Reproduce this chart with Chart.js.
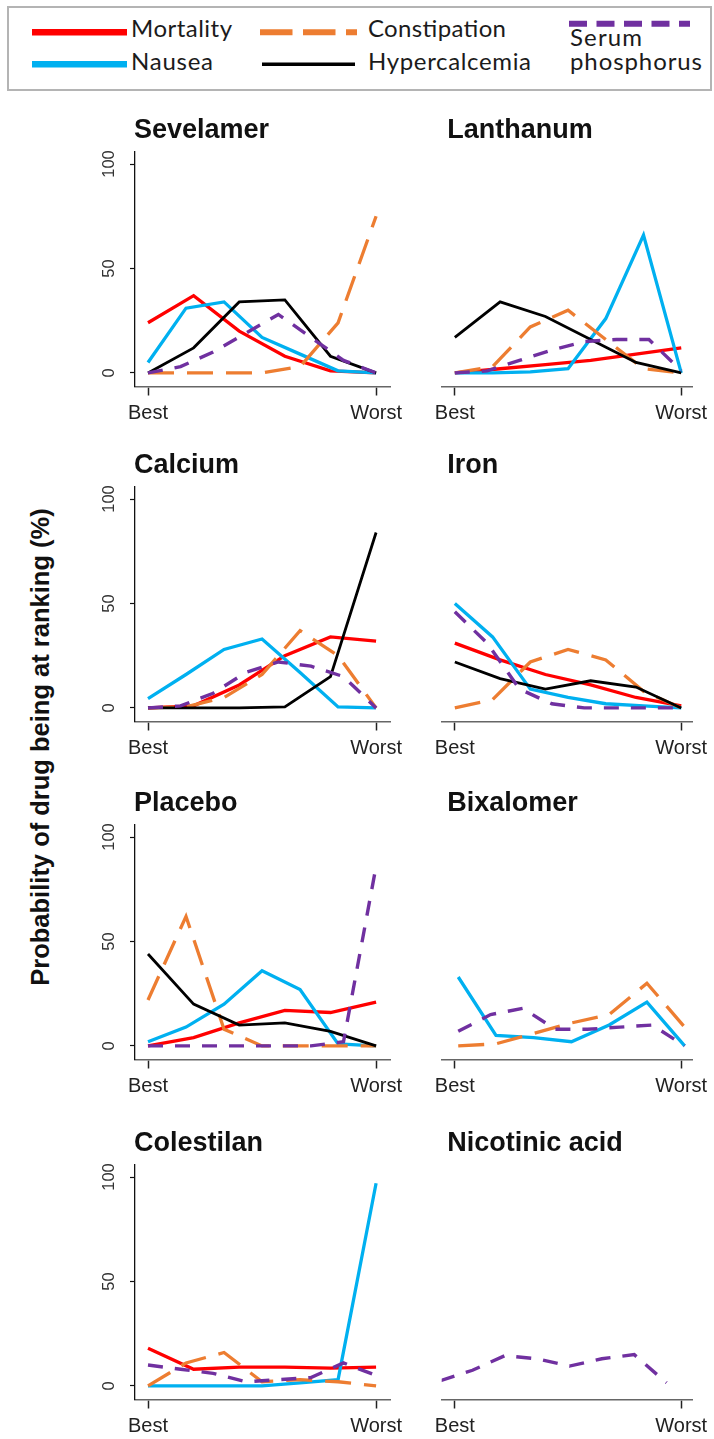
<!DOCTYPE html>
<html>
<head>
<meta charset="utf-8">
<script src="https://cdn.jsdelivr.net/npm/chart.js@4.4.1/dist/chart.umd.min.js"></script>
<style>
  html, body { margin: 0; padding: 0; background: #fff; overflow: hidden; }
  #page { position: relative; width: 714px; height: 1439px; }
  #page canvas { position: absolute; }
  #legend { position: absolute; left: 0; top: 0; }
  #legend text { font-family: Lato, "Open Sans", sans-serif; font-size: 24px; fill: #1b1b1b; }
  .ytitle {
    position: absolute; left: 41px; top: 747px;
    font: bold 25.5px "Liberation Sans", Arial, sans-serif; line-height: 1; color: #111;
    white-space: nowrap; transform: translate(-50%, -50%) rotate(-90deg);
  }
</style>
</head>
<body>
<div id="page">
  <svg id="legend" width="714" height="96">
    <rect x="8" y="7" width="703" height="83" fill="none" stroke="#b4b4b4" stroke-width="2"/>
    <line x1="32" y1="32.3" x2="127" y2="32.3" stroke="#ff0000" stroke-width="6.5"/>
    <text x="131" y="37.3" textLength="101">Mortality</text>
    <line x1="32" y1="64.3" x2="127" y2="64.3" stroke="#00b0f0" stroke-width="6.5"/>
    <text x="131" y="70" textLength="82">Nausea</text>
    <line x1="260" y1="32.3" x2="357" y2="32.3" stroke="#ed7d31" stroke-width="6" stroke-dasharray="32.5 10.5"/>
    <text x="368" y="37.3" textLength="138">Constipation</text>
    <line x1="262" y1="64.3" x2="355" y2="64.3" stroke="#000" stroke-width="3.5"/>
    <text x="368" y="70" textLength="163">Hypercalcemia</text>
    <line x1="569" y1="23.7" x2="690" y2="23.7" stroke="#7030a0" stroke-width="6" stroke-dasharray="18 9.5"/>
    <text x="570" y="46" textLength="72">Serum</text>
    <text x="570" y="70" textLength="132">phosphorus</text>
  </svg>
  <div class="ytitle">Probability of drug being at ranking (%)</div>
</div>
<script>
// Rank probabilities (%) from Best to Worst, one list per drug; null = not in that network.
const drugNames = ['Sevelamer', 'Lanthanum', 'Calcium', 'Iron', 'Placebo', 'Bixalomer', 'Colestilan', 'Nicotinic acid'];
const outcomeNames = ['Mortality', 'Nausea', 'Constipation', 'Hypercalcemia', 'Serum phosphorus'];

const mortality = [
  [24, 37, 20, 8, 1, 0],
  [0, 2, 4, 6, 9, 12],
  [0, 1, 11, 25, 34, 32],
  [31, 23, 16, 11, 5, 1],
  [0, 4, 11, 17, 16, 21],
  null,
  [18, 8, 9, 9, 8.5, 9],
  null
];
const nausea = [
  [5, 31, 34, 17, 9, 1, 0],
  [0, 0, 0.5, 2, 26, 66, 0],
  [4.5, 16, 28, 33, 17, 0.5, 0],
  [50, 34, 9, 5, 2, 1, 0],
  [2, 9, 20, 36, 27, 1, 0],
  [33, 5, 4, 2, 10, 21, 0],
  [0, 0, 0, 0, 1.5, 3, 97],
  null
];
const constipation = [
  [0, 0, 0, 0, 3, 24, 75],
  [0, 3, 22, 30, 16, 2, 0],
  [0, 0.5, 5, 16, 37, 25, 0],
  [0, 4, 22, 28, 23, 8, 0],
  [22, 62, 8, 0, 0, 0, 0],
  [0, 1, 6, 11, 15, 30, 9],
  [0, 11, 16, 2, 3, 2, 0],
  null
];
const hypercalcemia = [
  [0, 12, 34, 35, 8, 0],
  [17, 34, 27, 16, 5, 0],
  [0, 0, 0, 0.5, 15, 84],
  [22, 14, 9, 13, 10, 0],
  [44, 20, 10, 11, 7, 0],
  null,
  null,
  null
];
const serumPhosphorus = [
  [0, 3, 10, 19, 28, 17, 6, 0],
  [0, 1, 6, 11, 15, 16, 16, 1],
  [0, 1, 7, 17, 22, 20, 15, 0],
  [46, 31, 9, 2, 0, 0, 0, 0],
  [0, 0, 0, 0, 0, 0, 2, 86],
  [7, 15, 18, 8, 8, 9, 10, 0],
  [10, 8, 6, 2, 3, 4, 11, 5],
  [2.5, 7.5, 14.5, 13, 9.5, 13, 15, 1.5]
];

const rankLabels = ['Best', 'Worst'];
const yTicks = [0, 50, 100];

// series styling, same order as outcomeNames
const outcomeData = [mortality, nausea, constipation, hypercalcemia, serumPhosphorus];
const colors = ['#ff0000', '#00b0f0', '#ed7d31', '#000000', '#7030a0'];
const widths = [3.3, 3.3, 3.3, 2.8, 3.4];
const dashes = [[], [], [26, 13], [], [15, 12]];

// page layout
const rowZero = [373.3, 707.7, 1045.7, 1385.7];   // page y of the 0 % level per row
const lineShift = [0, 0, 0, 0, 0, -0.015, 0, 0.065];
const Y_MIN = -6.5, Y_MAX = 106;
const PAD_TOP = 38.5, X_AXIS_H = 36.5, CANVAS_H = 310, PLOT_H = 235;
const FONT = '"Liberation Sans", Arial, sans-serif';

const panelText = {
  id: 'panelText',
  afterDraw(chart, args, opts) {
    const { ctx, chartArea, scales } = chart;
    ctx.save();
    ctx.fillStyle = '#111';
    ctx.font = 'bold 27px ' + FONT;
    ctx.textAlign = 'left';
    ctx.textBaseline = 'middle';
    ctx.fillText(opts.title, chartArea.left + opts.titleDx, chartArea.top - 21);
    if (opts.yLabels) {
      ctx.font = '16.5px ' + FONT;
      ctx.fillStyle = '#333';
      ctx.textAlign = 'center';
      yTicks.forEach(v => {
        ctx.save();
        ctx.translate(chartArea.left - 26, scales.y.getPixelForValue(v));
        ctx.rotate(-Math.PI / 2);
        ctx.fillText(String(v), 0, 0);
        ctx.restore();
      });
    }
    ctx.restore();
  }
};

const page = document.getElementById('page');

drugNames.forEach((name, d) => {
  const row = Math.floor(d / 2), col = d % 2;
  const left = col === 0;
  const shift = lineShift[d];

  const canvas = document.createElement('canvas');
  canvas.width = left ? 340 : 299;
  canvas.height = CANVAS_H;
  canvas.style.left = (left ? 70 : 415) + 'px';
  canvas.style.top = (rowZero[row] - PAD_TOP - Y_MAX * PLOT_H / (Y_MAX - Y_MIN)) + 'px';
  page.appendChild(canvas);

  const datasets = [];
  outcomeData.forEach((series, k) => {
    const vals = series[d];
    if (!vals) return;
    datasets.push({
      label: outcomeNames[k],
      data: vals.map((v, i) => ({ x: i / (vals.length - 1), y: v })),
      borderColor: colors[k],
      borderWidth: widths[k],
      borderDash: dashes[k],
      borderCapStyle: 'butt',
      pointRadius: 0,
      tension: 0,
      order: outcomeNames.length - k
    });
  });

  const xMin = (left ? -0.057 : -0.058) + shift;
  const xMax = (left ? 1.061 : 1.048) + shift;

  new Chart(canvas, {
    type: 'line',
    data: { datasets },
    plugins: [panelText],
    options: {
      responsive: false,
      animation: false,
      devicePixelRatio: 1,
      layout: {
        padding: left ? { left: 0, right: 20, top: PAD_TOP, bottom: 0 }
                      : { left: 26.7, right: 19, top: PAD_TOP, bottom: 0 }
      },
      plugins: {
        legend: { display: false },
        tooltip: { enabled: false },
        panelText: { title: name, titleDx: left ? -1 : 5.5, yLabels: left }
      },
      scales: {
        x: {
          type: 'linear',
          min: xMin,
          max: xMax,
          afterBuildTicks: s => { s.ticks = [{ value: shift }, { value: 1 + shift }]; },
          afterFit: s => { s.height = X_AXIS_H; },
          ticks: {
            callback: (v, i) => rankLabels[i],
            autoSkip: false,
            maxRotation: 0,
            minRotation: 0,
            padding: 6,
            color: '#222',
            font: { family: FONT, size: 20 }
          },
          grid: { drawOnChartArea: false, drawTicks: true, tickLength: 9, tickWidth: 1.5, tickColor: '#222' },
          border: { display: true, color: '#666', width: 1.6 }
        },
        y: {
          display: left,
          min: Y_MIN,
          max: Y_MAX,
          afterBuildTicks: s => { s.ticks = yTicks.map(v => ({ value: v })); },
          afterFit: s => { s.width = left ? 65 : 0; },
          ticks: { display: false },
          grid: { drawOnChartArea: false, drawTicks: true, tickLength: 5, tickWidth: 1.2, tickColor: '#111' },
          border: { display: true, color: '#111', width: 1.3 }
        }
      }
    }
  });
});
</script>
</body>
</html>
